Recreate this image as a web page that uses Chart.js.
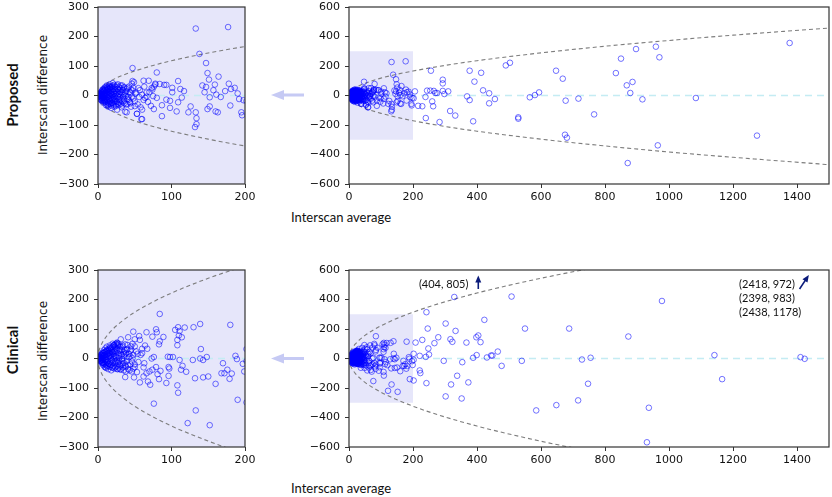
<!DOCTYPE html>
<html>
<head>
<meta charset="utf-8">
<script src="https://cdn.jsdelivr.net/npm/chart.js@4.4.0/dist/chart.umd.min.js"></script>
<style>
body { margin: 0; width: 832px; height: 497px; position: relative; overflow: hidden; background: #fff; font-family: "DejaVu Sans"; }
.box { position: absolute; }
.lbl { position: absolute; white-space: nowrap; color: #111; }
.rot { transform: translate(-50%, -50%) rotate(-90deg); }
</style>
</head>
<body>
<div class="lbl rot" style="left:12px;top:95px;font:bold 15px Lato">Proposed</div>
<div class="lbl rot" style="left:12px;top:350px;font:bold 15px Lato">Clinical</div>
<div class="lbl rot" style="left:43px;top:95px;font:12px 'DejaVu Sans'">Interscan difference</div>
<div class="lbl rot" style="left:43px;top:361px;font:12px 'DejaVu Sans'">Interscan difference</div>
<div class="lbl" style="left:291px;top:209px;font:13px Lato">Interscan average</div>
<div class="lbl" style="left:291px;top:480px;font:13px Lato">Interscan average</div>
<svg style="position:absolute;left:0;top:0" width="832" height="497">
  <g fill="#c6caf4" stroke="none">
    <rect x="282" y="93.5" width="22" height="3"/>
    <polygon points="271,95 284,90 284,100"/>
    <rect x="282" y="357" width="22" height="3"/>
    <polygon points="271,358.5 284,353.5 284,363.5"/>
  </g>
</svg>

<script>
// tick labels
const xTicksZoom = [0, 100, 200]
const yTicksZoom = [-300, -200, -100, 0, 100, 200, 300]
const xTicksFull = [0, 200, 400, 600, 800, 1000, 1200, 1400]
const yTicksFull = [-600, -400, -200, 0, 200, 400, 600]

// zoomed region (shaded)
const zoomX = [0, 200]
const zoomY = [-300, 300]

// Proposed: [average, difference]
const proposedPts = [
  [1,0],[1.5,3],[2,-4],[2,6],[3,-2],[3,8],[3.5,-9],[4,2],[4,12],[4.5,-6],[5,-14],[5,4],[5.5,15],[6,-3],[6,9],
  [7,-18],[7,20],[7.5,1],[8,-8],[8,13],[9,-22],[9,5],[9.5,24],[10,-12],[10,0],[11,17],[11,-27],[12,8],[12,-4],
  [12.5,28],[13,-16],[13,21],[14,-30],[14,3],[15,12],[15,-9],[15.5,32],[16,-22],[16,25],[17,-2],[17,6],[18,-34],
  [18,18],[19,-13],[19,30],[20,0],[20,-26],[21,14],[21,-7],[22,36],[22,-38],[23,22],[23,-18],[24,4],[24,-30],
  [25,28],[25,-10],[26,12],[26,-22],[27,38],[27,-4],[28,-32],[28,18],[29,6],[30,-15],[30,24],[31,-28],[32,10],
  [32,-40],[33,34],[34,-6],[34,20],[35,-20],[36,2],[37,-55],[36,28],[38,-30],[38,14],[40,-12],[40,26],[41,-4],
  [42,30],[43,-22],[44,8],[45,-38],[46,40],[47,17],[48,-10],[49,45],[50,-20],[52,10],[53,-62],[54,-30],[55,25],
  [56,-5],[57,18],[58,-40],[59,-80],[60,3],[62,-15],[63,30],[64,-8],[66,10],[68,-22],[70,12],[72,-35],[74,20],
  [75,-2],[76,30],[78,40],[80,-8],[17,28],[26,-48],[39,-57],[10,-20],[14,24],[20,12],[8,-16],[22,-12],[18,4],
  [2,1],[2.5,-2],[3,4],[3.5,-5],[4,7],[4,-1],[5,-8],[5,9],[6,5],[6,-11],[6.5,13],[7,-6],[7,3],[8,16],[8,-14],
  [8,2],[9,-3],[9,18],[10,9],[10,-17],[10,21],[11,-9],[11,5],[12,-21],[12,18],[13,1],[13,-6],[13,26],[14,-24],
  [14,13],[15,-28],[15,22],[15,-2],[16,6],[16,-14],[17,30],[17,-19],[18,-8],[18,10],[19,-26],[19,2],[20,33],
  [20,-15],[21,22],[21,-31],[22,6],[22,-21],[23,30],[23,-3],[24,16],[24,-36],[25,-20],[25,8],[26,34],[26,-1],
  [27,22],[27,-28],[28,-12],[28,4],[29,28],[29,-24],[30,12],[30,-4],[31,34],[32,-18],[33,-34],[33,18],[34,4],
  [35,27],[35,-12],[36,-26],[37,10],[38,-2],[39,22],[40,-30],[42,-14],[43,12],[44,-26],[45,20],[46,-4],[48,26],
  [50,-36],[51,6],[3,-12],[4,-15],[5,-18],[6,20],[7,-24],[9,27],[11,-33],[12,34],[14,-38],[16,38],[18,-42],
  [20,42],[19,24],[17,-28],[13,-34],[11,30],
  [47,93],[47,49],[62,50],[69,50],[78,37],[84,39],[90,36],[93,36],[73,25],[80,78],[66,-4],[76,-46],[60,-80],
  [53,-62],[60,-48],[87,-33],[87,-70],[93,-14],[98,-18],[98,-42],[101,26],[101,11],[107,-54],[109,49],[109,-23],
  [112,22],[114,-7],[117,15],[123,-57],[126,-37],[133,-57],[134,-77],[134,-97],[132,-107],[133,227],[177,232],
  [138,141],[147,110],[149,76],[151,54],[164,64],[142,34],[147,29],[145,11],[157,18],[159,37],[161,3],[152,-6],
  [167,-5],[149,-46],[152,-37],[160,-54],[163,-57],[178,40],[173,15],[181,22],[186,26],[190,7],[192,-12],
  [198,-16],[180,-34],[195,-57],[196,-67],
  [202,-19],[216,-70],[229,-73],[206,28],[256,168],[239,-10],[244,33],[254,33],[265,31],[270,17],[260,-40],
  [263,-73],[275,17],[293,107],[293,82],[293,31],[298,10],[310,28],[240,-153],[283,-180],[316,-105],[332,-136],
  [377,168],[392,94],[413,154],[419,35],[438,15],[369,-6],[377,-31],[388,-175],[438,-53],[456,-24],[490,204],
  [503,222],[565,-12],[581,3],[594,21],[529,-148],[529,-157],[647,168],[668,114],[677,-35],[675,-266],[681,-286],
  [1377,356],[897,315],[959,331],[850,250],[970,259],[834,152],[868,69],[886,92],[879,17],[917,-26],[1084,-17],
  [717,-21],[766,-128],[965,-338],[871,-458],[1275,-272]
]

// Clinical: [average, difference]
const clinicalPts = [
  [1,0],[1.5,-3],[2,4],[2.5,-6],[3,7],[3,-1],[4,10],[4,-9],[5,2],[5,13],[5.5,-12],[6,-4],[6,16],[7,8],[7,-15],
  [8,19],[8,0],[9,-18],[9,11],[10,22],[10,-6],[11,-21],[11,4],[12,25],[12,14],[13,-10],[13,-24],[14,28],[14,6],
  [15,-17],[15,18],[16,-28],[16,31],[17,1],[17,10],[18,-22],[18,35],[19,22],[19,-8],[20,-31],[20,39],[21,14],
  [21,-2],[22,45],[22,-34],[23,26],[23,-15],[24,8],[24,50],[25,-26],[25,34],[26,52],[26,-5],[27,18],[27,-36],
  [28,42],[28,-12],[29,2],[30,30],[30,-24],[31,-38],[32,12],[33,40],[33,-8],[34,-30],[35,22],[36,-16],[37,48],
  [38,-44],[39,6],[40,32],[41,-22],[42,16],[43,-40],[44,26],[46,-10],[47,50],[48,-34],[52,24],[53,-46],[55,-12],
  [58,12],[62,-30],[64,44],[66,-50],[12,-14],[16,8],[20,20],[24,-8],[10,-30],
  [2,2],[2.5,-1],[3,5],[3.5,-7],[4,3],[4.5,12],[5,-6],[5,8],[6,-14],[6,1],[6.5,11],[7,18],[7,-4],[8,-18],[8,9],
  [9,3],[9,22],[10,-12],[10,14],[11,26],[11,-4],[12,-26],[12,6],[13,30],[13,18],[14,-18],[14,-2],[15,10],[15,34],
  [16,-20],[16,20],[17,-10],[17,38],[18,4],[18,26],[19,-30],[19,14],[20,-14],[20,30],[21,44],[21,-24],[22,8],
  [22,24],[23,-30],[23,40],[24,-12],[24,20],[25,48],[25,4],[26,-36],[26,30],[27,-16],[27,46],[28,10],[28,-30],
  [29,26],[29,-8],[30,40],[30,-36],[31,16],[32,-20],[32,30],[33,-2],[34,44],[35,-40],[35,8],[36,28],[37,-24],
  [38,18],[39,-10],[40,46],[41,-36],[42,4],[44,-20],[45,30],[46,-44],[48,12],[50,-20],[3,-10],[4,14],[5,-16],
  [6,20],[7,-22],[8,28],[9,-28],[10,34],[11,-32],[12,40],[14,-36],[16,44],[18,-40],[20,50],
  [84,151],[48,91],[66,89],[79,99],[80,89],[74,74],[89,73],[41,72],[56,76],[57,63],[50,65],[50,41],[60,33],
  [67,33],[45,41],[39,29],[36,14],[84,58],[83,48],[105,97],[109,106],[118,105],[130,106],[139,117],[180,114],
  [110,78],[108,63],[108,45],[114,72],[111,93],[140,32],[139,0],[143,-5],[148,5],[129,-5],[111,-5],[102,5],
  [98,5],[95,6],[115,-25],[113,-38],[120,-45],[132,-67],[143,-64],[150,-61],[160,-86],[170,-16],[172,-50],
  [168,-50],[176,-38],[182,-51],[179,-69],[187,9],[189,-2],[197,-18],[199,-44],[190,-140],[96,-59],[96,-29],
  [97,-34],[93,-83],[108,-91],[109,-116],[122,-219],[133,-176],[152,-226],[76,-153],[57,-81],[68,-78],[71,-89],
  [62,-61],[70,-44],[74,-38],[81,-53],[83,-70],[85,-42],[79,-29],[76,5],[73,0],[63,-16],[50,-29],[49,-64],
  [37,-63],[38,-27],[34,-16],[44,7],[47,1],[54,16],[60,18],[31,65],[28,50],[26,54],[22,46],
  [329,417],[508,420],[242,314],[246,203],[302,237],[333,187],[317,131],[323,113],[367,108],[279,144],[267,104],
  [229,126],[208,108],[221,18],[240,11],[248,68],[250,27],[202,32],[202,-9],[202,-149],[223,-99],[221,-81],
  [242,-167],[296,-16],[354,-25],[338,-117],[319,-176],[302,-257],[352,-271],[373,-162],[423,262],[398,144],
  [404,156],[411,111],[399,23],[388,5],[431,7],[444,20],[448,20],[465,47],[477,-50],[540,-16],[550,203],
  [585,-352],[648,-316],[688,203],[978,390],[873,149],[728,-7],[755,5],[747,-171],[716,-284],[937,-334],
  [931,-568],[1142,23],[1166,-140],[1411,9],[1424,-2]
]

// dashed limit curves
const proposedUpper = [[0,0],[1,12],[3,20],[6,29],[10,37],[20,53],[35,70],[50,83],[75,102],[100,118],[150,144],[200,166],[300,204],[400,236],[600,289],[800,334],[1000,373],[1200,409],[1500,457]]
const proposedLower = [[0,0],[1,-12],[3,-21],[6,-30],[10,-38],[20,-54],[35,-72],[50,-86],[75,-105],[100,-121],[150,-148],[200,-171],[300,-210],[400,-242],[600,-296],[800,-342],[1000,-383],[1200,-419],[1500,-469]]
const clinicalUpper = [[0,0],[1,22],[3,38],[6,54],[10,70],[20,99],[35,131],[50,157],[75,192],[100,222],[150,272],[184,301],[250,351],[400,444],[600,544],[730,600],[1000,702],[1500,860]]
const clinicalLower = [[0,0],[1,-23],[3,-40],[6,-56],[10,-72],[20,-102],[35,-135],[50,-162],[75,-198],[100,-229],[150,-280],[172,-300],[250,-362],[400,-458],[600,-561],[690,-601],[1000,-724],[1500,-887]]
const zeroLine = [[0,0],[1500,0]]

// off-scale points noted on the clinical panel
const noteLeft = ['(404, 805)']
const noteRight = ['(2418, 972)', '(2398, 983)', '(2438, 1178)']

const toXY = arr => arr.map(p => ({x: p[0], y: p[1]}))
const minus = v => String(v).replace('-', '\u2212')

const framePlugin = {
  id: 'frame',
  beforeDatasetsDraw(chart, args, opts) {
    const {ctx, chartArea: a, scales: {x, y}} = chart
    ctx.save()
    ctx.fillStyle = '#e6e6fa'
    if (opts.fullShade) {
      ctx.fillRect(a.left, a.top, a.width, a.height)
    } else {
      const l = x.getPixelForValue(zoomX[0]), r = x.getPixelForValue(zoomX[1])
      const t = y.getPixelForValue(zoomY[1]), b = y.getPixelForValue(zoomY[0])
      ctx.fillRect(l, t, r - l, b - t)
    }
    ctx.restore()
  },
  afterDraw(chart) {
    const {ctx, chartArea: a} = chart
    ctx.save()
    ctx.strokeStyle = '#333'
    ctx.lineWidth = 1.2
    ctx.strokeRect(a.left, a.top, a.width, a.height)
    ctx.restore()
  }
}

function arrow(ctx, x1, y1, x2, y2) {
  const ang = Math.atan2(y2 - y1, x2 - x1)
  ctx.beginPath()
  ctx.moveTo(x1, y1)
  ctx.lineTo(x2 - 4 * Math.cos(ang), y2 - 4 * Math.sin(ang))
  ctx.stroke()
  ctx.beginPath()
  ctx.moveTo(x2, y2)
  ctx.lineTo(x2 - 7 * Math.cos(ang) + 3 * Math.sin(ang), y2 - 7 * Math.sin(ang) - 3 * Math.cos(ang))
  ctx.lineTo(x2 - 7 * Math.cos(ang) - 3 * Math.sin(ang), y2 - 7 * Math.sin(ang) + 3 * Math.cos(ang))
  ctx.closePath()
  ctx.fill()
}

const notePlugin = {
  id: 'notes',
  afterDatasetsDraw(chart) {
    const {ctx, scales: {x, y}} = chart
    ctx.save()
    ctx.fillStyle = '#111'
    ctx.font = '11px Lato'
    ctx.textBaseline = 'middle'
    ctx.textAlign = 'right'
    ctx.fillText(noteLeft[0], x.getPixelForValue(373), y.getPixelForValue(499))
    ctx.textAlign = 'left'
    noteRight.forEach((t, i) => ctx.fillText(t, x.getPixelForValue(1219), y.getPixelForValue(505) + i * 14.2))
    ctx.strokeStyle = '#0b1b7a'
    ctx.fillStyle = '#0b1b7a'
    ctx.lineWidth = 1.6
    arrow(ctx, x.getPixelForValue(404), y.getPixelForValue(471), x.getPixelForValue(404), y.getPixelForValue(562))
    arrow(ctx, x.getPixelForValue(1408), y.getPixelForValue(471), x.getPixelForValue(1437), y.getPixelForValue(566))
    ctx.restore()
  }
}

function makePanel(box, pts, upper, lower, full, withNotes) {
  const padT = 12, padR = 16, yW = 60, xH = 28
  const div = document.createElement('div')
  div.className = 'box'
  div.style.left = (box.l - yW) + 'px'
  div.style.top = (box.t - padT) + 'px'
  div.style.width = (box.r - box.l + yW + padR) + 'px'
  div.style.height = (box.b - box.t + padT + xH) + 'px'
  const cv = document.createElement('canvas')
  div.appendChild(cv)
  document.body.appendChild(div)

  const xt = full ? xTicksFull : xTicksZoom
  const yt = full ? yTicksFull : yTicksZoom
  const curveStyle = {type: 'scatter', showLine: true, pointRadius: 0, borderColor: '#7d7d7d', borderWidth: 1.1,
    borderDash: [4, 3], cubicInterpolationMode: 'monotone', order: 1}

  return new Chart(cv, {
    type: 'scatter',
    data: {
      datasets: [
        {data: toXY(pts), pointStyle: 'circle', pointRadius: 2.8, borderWidth: 1,
          borderColor: 'rgba(0,0,255,0.55)', backgroundColor: 'rgba(0,0,0,0)', order: 0},
        Object.assign({data: toXY(upper)}, curveStyle),
        Object.assign({data: toXY(lower)}, curveStyle),
        {data: toXY(zeroLine), showLine: true, pointRadius: 0, borderColor: '#c4ecf3', borderWidth: 1.5,
          borderDash: [7, 5], order: 2}
      ]
    },
    options: {
      responsive: true,
      maintainAspectRatio: false,
      animation: false,
      events: [],
      layout: {padding: {top: padT, right: padR, left: 0, bottom: 0}},
      plugins: {legend: {display: false}, tooltip: {enabled: false}, frame: {fullShade: !full}},
      scales: {
        x: {
          type: 'linear', min: xt[0], max: full ? 1500 : 200,
          afterBuildTicks: ax => { ax.ticks = xt.map(v => ({value: v})) },
          afterFit: ax => { ax.height = xH },
          grid: {drawOnChartArea: false, tickLength: 4, color: '#333'},
          border: {display: false},
          ticks: {color: '#111', font: {family: 'DejaVu Sans', size: 11}, padding: 3, maxRotation: 0, callback: minus}
        },
        y: {
          type: 'linear', min: yt[0], max: yt[yt.length - 1],
          afterBuildTicks: ax => { ax.ticks = yt.map(v => ({value: v})) },
          afterFit: ax => { ax.width = yW },
          grid: {drawOnChartArea: false, tickLength: 4, color: '#333'},
          border: {display: false},
          ticks: {color: '#111', font: {family: 'DejaVu Sans', size: 11}, padding: 5, callback: minus}
        }
      }
    },
    plugins: withNotes ? [framePlugin, notePlugin] : [framePlugin]
  })
}

makePanel({l: 98, t: 7, r: 245, b: 184}, proposedPts, proposedUpper, proposedLower, false, false)
makePanel({l: 349, t: 7, r: 829, b: 184}, proposedPts, proposedUpper, proposedLower, true, false)
makePanel({l: 98, t: 270, r: 245, b: 447}, clinicalPts, clinicalUpper, clinicalLower, false, false)
makePanel({l: 349, t: 270, r: 829, b: 447}, clinicalPts, clinicalUpper, clinicalLower, true, true)
</script>
</body>
</html>
